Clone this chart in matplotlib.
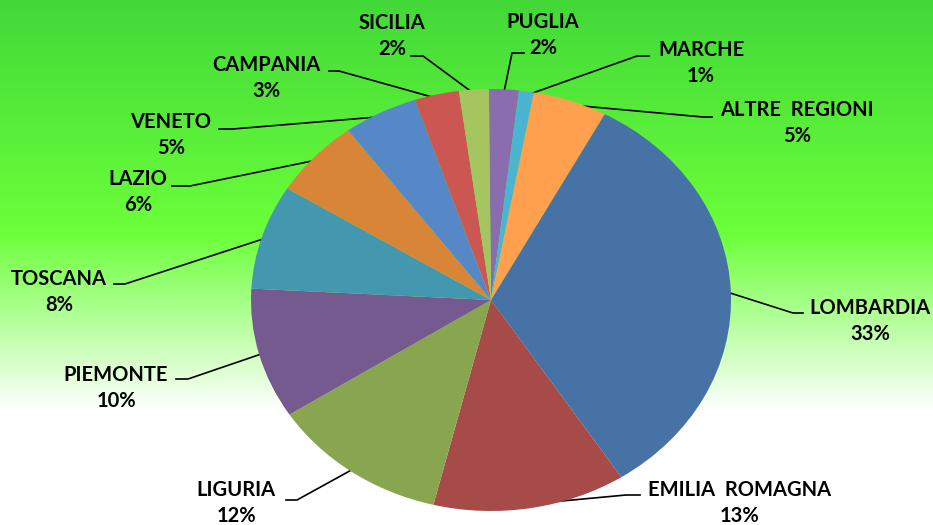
import numpy as np
import matplotlib.pyplot as plt

# data (clockwise from 12 o'clock)
regions = ['PUGLIA', 'MARCHE', 'ALTRE  REGIONI', 'LOMBARDIA', 'EMILIA  ROMAGNA', 'LIGURIA',
           'PIEMONTE', 'TOSCANA', 'LAZIO', 'VENETO', 'CAMPANIA', 'SICILIA']
percent = [2, 1, 5, 33, 13, 12, 10, 8, 6, 5, 3, 2]
colors = ['#8A6DAF', '#4BB4D0', '#FFA04F', '#4672A6', '#A64B48', '#88A550',
          '#745A8F', '#4397AE', '#D98538', '#5687C6', '#CC5651', '#A5C560']

# label layout in pixels: text centre (name line), leader elbow (joint x, text-side x, y)
label_xy = [(543, 22), (701, 50), (797, 110), (870, 308), (740, 490), (236, 490),
            (116, 375), (59, 279), (138, 179), (171, 122), (266, 65), (392, 23)]
elbows = [(512, 524, 53), (637, 649, 56), (703, 712, 117), (793, 803, 313),
          (626, 640, 495), (297, 286, 500), (188, 176, 379), (125, 114, 284),
          (190, 172, 186), (233, 219, 129), (339, 329, 71), (423, 411, 56)]

W, H = 933, 525
fig = plt.figure(figsize=(W / 100, H / 100), dpi=100)

# gradient background
bg = fig.add_axes([0, 0, 1, 1])
bg.set_axis_off()
ys = np.arange(H)
stops_y = [0, 233, 410, H]
r = np.interp(ys, stops_y, [66, 108, 255, 255])
g = np.interp(ys, stops_y, [217, 255, 255, 255])
b = np.interp(ys, stops_y, [56, 58, 255, 255])
grad = np.stack([r, g, b], axis=1)[:, None, :] / 255.0
bg.imshow(np.repeat(grad, 2, axis=1), aspect='auto', extent=(0, W, H, 0))
bg.set_xlim(0, W)
bg.set_ylim(H, 0)

# pie (stretched to an ellipse like the original)
cx, cy, rx, ry = 491, 300, 240, 211
ax = fig.add_axes([(cx - rx) / W, (H - cy - ry) / H, 2 * rx / W, 2 * ry / H])
wedges, _ = ax.pie(percent, colors=colors, startangle=90.5, counterclock=False,
                   wedgeprops=dict(linewidth=0))
ax.set_aspect('auto')
ax.set_xlim(-1, 1)
ax.set_ylim(-1, 1)

font = dict(family=['Lato', 'DejaVu Sans'], fontsize=14.5, fontweight='bold', color='black')
for w, name, v, (tx, ty), (xj, xt, ey) in zip(wedges, regions, percent, label_xy, elbows):
    ang = np.deg2rad((w.theta1 + w.theta2) / 2)
    dx, dy = ax.transData.transform((0.98 * np.cos(ang), 0.98 * np.sin(ang)))
    bg.plot([dx, xj, xt], [H - dy, ey, ey], color='black', lw=1.2, zorder=1)
    bg.text(tx, ty, name, ha='center', va='center', **font)
    bg.text(tx, ty + 26, f"{v}%", ha='center', va='center', **font)

fig.savefig('out.png', dpi=100)
